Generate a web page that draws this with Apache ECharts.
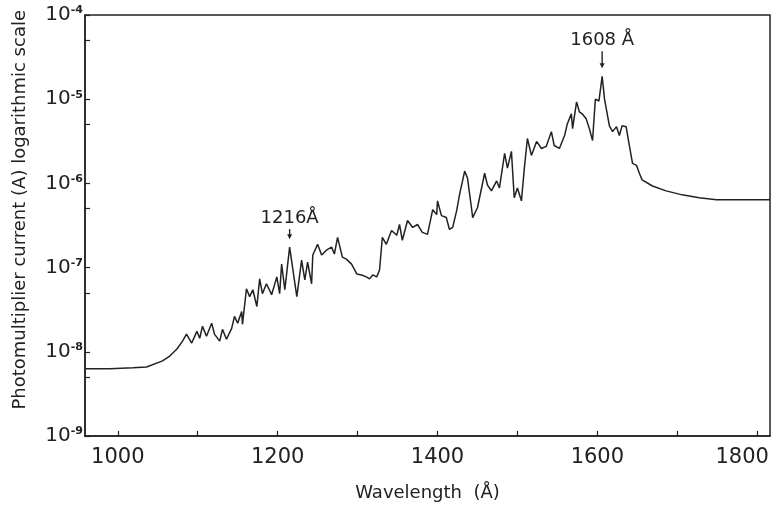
<!DOCTYPE html>
<html><head><meta charset="utf-8">
<script src="https://cdn.jsdelivr.net/npm/echarts@6/dist/echarts.min.js"></script>
<style>html,body{margin:0;padding:0;background:#fff}#c{width:776px;height:507px}</style>
</head><body><div id="c"></div>
<script>
const wavelength = [959, 990, 1019, 1036, 1056, 1065, 1074, 1081, 1086,
  1092.5, 1099, 1102.5, 1106, 1111, 1117.5, 1121, 1127.5, 1131, 1136, 1142.5, 1146, 1150, 1155, 1156,
  1161, 1165, 1169, 1174, 1177.5, 1181, 1186, 1192.5, 1199, 1202.5, 1205, 1209, 1215, 1224, 1230, 1234,
  1237.5, 1242.5, 1244, 1250, 1255, 1261, 1267.5, 1271, 1275, 1281, 1286, 1292.5, 1299, 1305, 1311, 1315,
  1319, 1324, 1327.5, 1331, 1336, 1342.5, 1349, 1352.5, 1356, 1362.5, 1369, 1375, 1381, 1387.5, 1394,
  1399, 1400, 1405, 1411, 1415, 1419, 1424, 1427.5, 1434, 1437.5, 1442.5, 1444, 1450, 1459, 1462.5,
  1467.5, 1474, 1477.5, 1484, 1487.5, 1492.5, 1496, 1500, 1505, 1509, 1512.5, 1517.5, 1524, 1530, 1536,
  1542.5, 1546, 1552.5, 1559, 1562.5, 1567.5, 1569, 1574, 1577.5, 1581, 1586, 1590, 1594, 1597.5, 1602,
  1606, 1609, 1611, 1615, 1619, 1624, 1627.5, 1631, 1636, 1640, 1644, 1649, 1652.5, 1656, 1669, 1686,
  1706, 1727.5, 1749, 1790, 1816];
const current = [6.3e-9, 6.3e-9, 6.45e-9, 6.6e-9, 7.8e-9, 8.9e-9, 1.08e-8, 1.34e-8, 1.62e-8,
  1.27e-8, 1.75e-8, 1.45e-8, 2.01e-8, 1.53e-8, 2.18e-8, 1.62e-8, 1.34e-8, 1.85e-8, 1.41e-8, 1.9e-8, 2.63e-8, 2.18e-8, 3.01e-8, 2.12e-8,
  5.61e-8, 4.52e-8, 5.46e-8, 3.45e-8, 7.35e-8, 4.9e-8, 6.43e-8, 4.77e-8, 7.76e-8, 4.9e-8, 1.1e-7, 5.46e-8, 1.75e-7, 4.52e-8, 1.23e-7, 7.15e-8,
  1.16e-7, 6.43e-8, 1.41e-7, 1.89e-7, 1.41e-7, 1.61e-7, 1.75e-7, 1.45e-7, 2.29e-7, 1.33e-7, 1.26e-7, 1.1e-7, 8.41e-8, 8.18e-8, 7.76e-8, 7.35e-8,
  8.18e-8, 7.76e-8, 9.38e-8, 2.29e-7, 1.89e-7, 2.76e-7, 2.42e-7, 3.25e-7, 2.11e-7, 3.62e-7, 3.0e-7, 3.25e-7, 2.62e-7, 2.48e-7, 4.87e-7,
  4.26e-7, 6.21e-7, 4.14e-7, 3.93e-7, 2.84e-7, 3.0e-7, 4.74e-7, 7.31e-7, 1.4e-6, 1.16e-6, 5.14e-7, 3.93e-7, 5.14e-7, 1.32e-6, 9.57e-7,
  8.15e-7, 1.07e-6, 8.83e-7, 2.27e-6, 1.52e-6, 2.4e-6, 6.74e-7, 8.83e-7, 6.21e-7, 1.64e-6, 3.41e-6, 2.15e-6, 3.15e-6, 2.6e-6, 2.75e-6,
  4.12e-6, 2.82e-6, 2.6e-6, 3.7e-6, 5.12e-6, 6.7e-6, 4.47e-6, 9.27e-6, 7.08e-6, 6.7e-6, 5.86e-6, 4.47e-6, 3.23e-6, 1.0e-5, 9.53e-6,
  1.87e-5, 1.0e-5, 1.0e-5, 4.85e-6, 4.12e-6, 4.72e-6, 3.7e-6, 4.85e-6, 4.72e-6, 2.82e-6, 1.73e-6, 1.64e-6, 1.32e-6, 1.1e-6, 9.31e-7, 8.15e-7,
  7.31e-7, 6.74e-7, 6.38e-7, 6.38e-7, 6.38e-7];
const xTickValues = [1000, 1100, 1200, 1300, 1400, 1500, 1600, 1700, 1800];
const xLabelValues = [1000, 1200, 1400, 1600, 1800];
const yLabelValues = [1e-9, 1e-8, 1e-7, 1e-6, 1e-5, 1e-4];
const yTickValues = [1e-9, 5e-9, 1e-8, 5e-8, 1e-7, 5e-7, 1e-6, 5e-6, 1e-5, 5e-5, 1e-4];
const peakWavelength = [1215, 1606];
const peakCurrent = [1.75e-7, 1.87e-5];
const peakText = ['1216Å', '1608 Å'];
const arrowLength = [10, 17];

const INK = '#222';
const FONT = 'DejaVu Sans';
const chart = echarts.init(document.getElementById('c'));
chart.setOption({
  backgroundColor: '#ffffff',
  animation: false,
  grid: { left: 85, right: 6, top: 15, bottom: 66, show: true, borderColor: INK, borderWidth: 1.5, backgroundColor: 'transparent' },
  xAxis: {
    type: 'value', min: 959, max: 1816,
    name: 'Wavelength  (Å)', nameLocation: 'middle', nameGap: 48,
    nameTextStyle: { fontFamily: FONT, fontSize: 18, color: INK },
    axisLine: { lineStyle: { color: INK, width: 1.5 } },
    axisTick: { inside: true, length: 5, customValues: xTickValues, lineStyle: { color: INK, width: 1.2 } },
    axisLabel: {
      customValues: xLabelValues, margin: 11, fontFamily: FONT, fontSize: 21, color: INK,
      formatter: v => v === 1800 ? '{r|1800}' : String(v),
      rich: { r: { fontFamily: FONT, fontSize: 21, color: INK, padding: [0, 30, 0, 0] } }
    },
    splitLine: { show: false }
  },
  yAxis: {
    type: 'log', logBase: 10, min: 1e-9, max: 1e-4,
    axisLine: { show: true, lineStyle: { color: INK, width: 1.5 } },
    axisTick: { show: true, inside: true, length: 5, customValues: yTickValues, lineStyle: { color: INK, width: 1.2 } },
    axisLabel: {
      customValues: yLabelValues, margin: 2,
      formatter: v => '{b|10}{s|-' + Math.abs(Math.round(Math.log10(v))) + '}',
      rich: {
        b: { fontFamily: FONT, fontSize: 20, color: INK },
        s: { fontFamily: FONT, fontSize: 11, fontWeight: 'bold', color: INK, verticalAlign: 'top' }
      }
    },
    splitLine: { show: false }
  },
  graphic: [{
    type: 'text', left: 11, top: 10,
    style: { text: 'Photomultiplier current (A) logarithmic scale', fontFamily: FONT, fontSize: 18, fill: INK },
    rotation: Math.PI / 2, originX: 0, originY: 0
  }],
  series: [{
    type: 'line', showSymbol: false, symbol: 'none',
    lineStyle: { color: INK, width: 1.5 },
    data: wavelength.map((w, i) => [w, current[i]])
  }, {
    type: 'custom',
    data: peakWavelength.map((w, i) => [w, peakCurrent[i], i]),
    renderItem: (params, api) => {
      const p = api.coord([api.value(0), api.value(1)]);
      const i = api.value(2);
      const tip = p[1] - 8;
      const top = tip - arrowLength[i];
      return {
        type: 'group', children: [
          { type: 'line', shape: { x1: p[0], y1: top, x2: p[0], y2: tip - 3 }, style: { stroke: INK, lineWidth: 1.4 } },
          { type: 'polygon', shape: { points: [[p[0] - 2.5, tip - 5], [p[0] + 2.5, tip - 5], [p[0], tip]] }, style: { fill: INK } },
          { type: 'text', x: p[0], y: top - 2, style: { text: peakText[i], fontFamily: FONT, fontSize: 18, fill: INK, align: 'center', verticalAlign: 'bottom' } }
        ]
      };
    }
  }]
});
</script></body></html>
